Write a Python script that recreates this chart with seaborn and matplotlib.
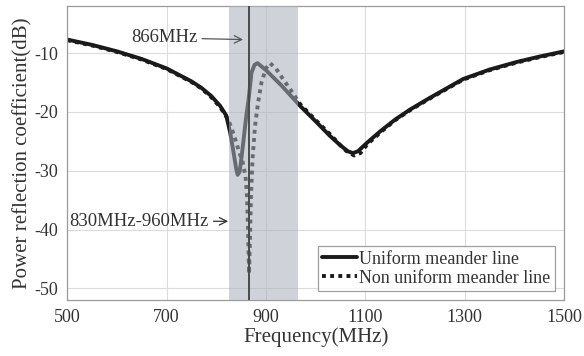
import matplotlib
matplotlib.use("Agg")
import matplotlib.pyplot as plt
import seaborn as sns

# values
freq_uniform = [500, 550, 600, 650, 700, 750, 770, 790, 808, 820, 828, 835, 840, 843,
                847, 851, 855, 860, 865, 871, 877, 883, 900, 930, 969, 1000, 1029,
                1050, 1065, 1075, 1085, 1104, 1130, 1160, 1190, 1230, 1297, 1350,
                1405, 1450, 1500]
db_uniform = [-7.7, -8.6, -9.7, -11.0, -12.6, -14.8, -15.9, -17.3, -19.0, -20.6, -23.5,
              -27.0, -29.6, -30.7, -30.2, -27.6, -24.7, -21.0, -17.9, -13.3, -12.0,
              -11.7, -12.9, -15.4, -19.0, -21.6, -24.1, -25.7, -26.7, -27.0, -26.7,
              -25.2, -23.3, -21.3, -19.6, -17.6, -14.4, -12.8, -11.5, -10.6, -9.7]

freq_nonuniform = [500, 550, 600, 650, 700, 750, 770, 790, 808, 824, 835, 845, 853,
                   859, 862, 864, 866, 868, 870, 873, 878, 884, 891, 900, 908, 920,
                   935, 950, 969, 1000, 1029, 1050, 1065, 1078, 1090, 1104, 1130,
                   1160, 1190, 1230, 1297, 1350, 1405, 1450, 1500]
db_nonuniform = [-7.8, -8.7, -9.8, -11.1, -12.7, -14.9, -16.0, -17.5, -19.2, -21.3, -23.8,
                 -26.5, -28.5, -31.0, -34.5, -40.0, -47.5, -41.0, -34.0, -28.0, -22.4,
                 -18.5, -15.0, -12.6, -11.7, -12.6, -14.5, -16.3, -18.7, -21.4, -23.8,
                 -25.7, -26.9, -27.4, -27.0, -25.5, -23.5, -21.4, -19.7, -17.7, -14.5,
                 -12.9, -11.6, -10.7, -9.8]

band = (825, 965)
marker_freq = 866

sns.set_style("whitegrid", {"grid.color": "#dcdcdc", "axes.edgecolor": "#9a9a9a"})
plt.rcParams['font.family'] = ['Liberation Serif', 'DejaVu Serif']
plt.rcParams['axes.unicode_minus'] = False

fig = plt.figure(figsize=(5.84, 3.56), dpi=100)
ax = fig.add_axes([0.115, 0.157, 0.851, 0.826])

sns.lineplot(x=freq_uniform, y=db_uniform, ax=ax, color='#1a1a1a', lw=2.8,
             label='Uniform meander line', zorder=2)
sns.lineplot(x=freq_nonuniform, y=db_nonuniform, ax=ax, color='#1a1a1a', lw=2.8,
             linestyle=(0, (1, 1.1)), label='Non uniform meander line', zorder=2)

ax.axvspan(band[0], band[1], color='#a9afba', alpha=0.55, lw=0, zorder=3)
ax.axvline(marker_freq, color='#4a4a4a', lw=1.4, zorder=4)

ax.annotate('866MHz', xy=(854, -7.7), xytext=(762, -7.4), ha='right', va='center',
            fontsize=13.5, color='#333333',
            arrowprops=dict(arrowstyle='->', color='#555555', lw=0.9, shrinkA=1, shrinkB=0))
ax.annotate('830MHz-960MHz', xy=(824, -38.6), xytext=(785, -38.6), ha='right', va='center',
            fontsize=13.5, color='#333333',
            arrowprops=dict(arrowstyle='->', color='#333333', lw=0.9, shrinkA=1, shrinkB=0))

ax.set_xlim(500, 1500)
ax.set_ylim(-52, -2)
ax.set_xticks([500, 700, 900, 1100, 1300, 1500])
ax.set_yticks([-50, -40, -30, -20, -10])
ax.tick_params(labelsize=13, colors='#333333', pad=3)
ax.set_xlabel('Frequency(MHz)', fontsize=15, color='#333333', labelpad=1)
ax.set_ylabel('Power reflection coefficient(dB)', fontsize=15, color='#333333', labelpad=1)
for s in ax.spines.values():
    s.set_linewidth(0.9)

leg = ax.legend(loc='lower right', fontsize=13, frameon=True, fancybox=False,
                handlelength=1.9, handletextpad=0.15, borderpad=0.25, labelspacing=0.1,
                borderaxespad=0.5, edgecolor='#888888')
leg.get_frame().set_linewidth(0.9)
for t in leg.get_texts():
    t.set_color('#333333')

fig.savefig('out.png', dpi=100)
